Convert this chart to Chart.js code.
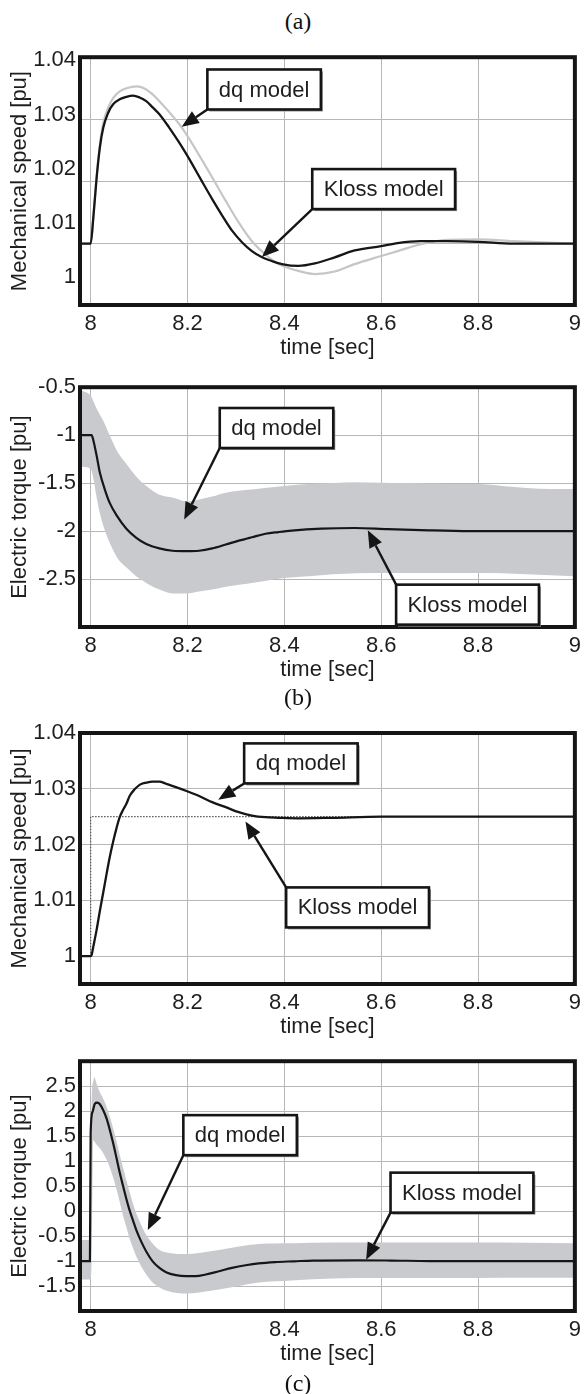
<!DOCTYPE html>
<html><head><meta charset="utf-8">
<script src="https://cdn.jsdelivr.net/npm/chart.js@4/dist/chart.umd.min.js"></script>
<style>
html,body{margin:0;padding:0;background:#fff;}
#page{position:relative;width:587px;height:1394px;overflow:hidden;background:#fff;}
#page canvas{position:absolute;left:0;}
.cap{position:absolute;left:298px;transform:translate(-50%,-50%);font-family:"Liberation Serif","Times New Roman",serif;font-size:24px;color:#111;line-height:1;white-space:nowrap;}
</style></head><body>
<div id="page">
  <div class="cap" style="top:21px">(a)</div>
  <canvas id="c1" width="587" height="325" style="top:40px"></canvas>
  <canvas id="c2" width="587" height="317" style="top:370px"></canvas>
  <div class="cap" style="top:697px">(b)</div>
  <canvas id="c3" width="587" height="332" style="top:712px"></canvas>
  <canvas id="c4" width="587" height="327" style="top:1044px"></canvas>
  <div class="cap" style="top:1383px">(c)</div>
</div>
<script>
// ---------- shared axis ticks ----------
const timeTicks = [8, 8.2, 8.4, 8.6, 8.8, 9];
const speedTicks = [1, 1.01, 1.02, 1.03, 1.04];
const torqueTicksA = [-3, -2.5, -2, -1.5, -1, -0.5];
const torqueTicksB = [-2, -1.5, -1, -0.5, 0, 0.5, 1, 1.5, 2, 2.5, 3];

// ---------- (a) mechanical speed ----------
const a1KlossT = [7.975, 8.0, 8.0055, 8.0123, 8.019, 8.026, 8.036, 8.0464, 8.060, 8.0738, 8.0874, 8.101, 8.1148, 8.128, 8.142, 8.1625, 8.183, 8.198, 8.210, 8.231, 8.251, 8.272, 8.292, 8.313, 8.333, 8.354, 8.374, 8.395, 8.429, 8.463, 8.504, 8.545, 8.6, 8.634, 8.682, 8.736, 8.8, 8.873, 9.0];
const a1KlossW = [1.0099, 1.0099, 1.0141, 1.0205, 1.0254, 1.0286, 1.0310, 1.0324, 1.0332, 1.0336, 1.0338, 1.0335, 1.0329, 1.0319, 1.0308, 1.0286, 1.0262, 1.0243, 1.0227, 1.0198, 1.0171, 1.0144, 1.0120, 1.0101, 1.0087, 1.0077, 1.0071, 1.0066, 1.0063, 1.0067, 1.0077, 1.0088, 1.0095, 1.0100, 1.0103, 1.0103, 1.0102, 1.0099, 1.0099];
const a1DqT = [7.975, 8.0, 8.0055, 8.0123, 8.019, 8.026, 8.036, 8.0464, 8.060, 8.0738, 8.0956, 8.1148, 8.128, 8.142, 8.183, 8.198, 8.224, 8.251, 8.279, 8.306, 8.333, 8.36, 8.388, 8.415, 8.429, 8.463, 8.504, 8.545, 8.6, 8.634, 8.682, 8.736, 8.8, 8.873, 9.0];
const a1DqW = [1.0099, 1.0099, 1.0141, 1.0208, 1.0259, 1.0294, 1.0318, 1.0334, 1.0345, 1.0350, 1.0353, 1.0348, 1.0340, 1.0329, 1.0292, 1.0275, 1.0242, 1.0206, 1.0168, 1.0133, 1.0103, 1.0082, 1.0066, 1.0058, 1.0055, 1.0050, 1.0054, 1.0066, 1.0079, 1.0087, 1.0098, 1.0105, 1.0106, 1.0103, 1.0099];

// ---------- (a) electric torque ----------
const a2KlossT = [7.975, 8.002, 8.0055, 8.0123, 8.019, 8.0293, 8.0396, 8.0533, 8.0738, 8.0943, 8.1148, 8.142, 8.169, 8.198, 8.224, 8.251, 8.279, 8.306, 8.333, 8.361, 8.388, 8.415, 8.477, 8.545, 8.613, 8.682, 8.784, 9.0];
const a2KlossTe = [-1, -1, -1.053, -1.213, -1.39, -1.567, -1.709, -1.833, -1.975, -2.07, -2.134, -2.18, -2.205, -2.21, -2.205, -2.18, -2.14, -2.10, -2.064, -2.028, -2.01, -1.995, -1.975, -1.968, -1.98, -1.99, -2.0, -2.0];
const a2DqT = [7.978, 8.0, 8.006, 8.012, 8.019, 8.029, 8.04, 8.055, 8.074, 8.094, 8.115, 8.142, 8.169, 8.198, 8.224, 8.251, 8.279, 8.306, 8.333, 8.36, 8.4, 8.45, 8.5, 8.55, 8.6, 8.65, 8.7, 8.75, 8.8, 8.85, 8.9, 8.95, 9.0];
const a2DqMax = [-0.53, -0.59, -0.65, -0.72, -0.785, -0.88, -1.01, -1.17, -1.30, -1.43, -1.53, -1.62, -1.65, -1.69, -1.67, -1.64, -1.60, -1.58, -1.567, -1.55, -1.53, -1.51, -1.50, -1.49, -1.496, -1.50, -1.505, -1.51, -1.51, -1.53, -1.55, -1.56, -1.56];
const a2DqMin = [-1.33, -1.35, -1.46, -1.64, -1.815, -1.99, -2.13, -2.28, -2.38, -2.47, -2.54, -2.61, -2.65, -2.65, -2.63, -2.61, -2.58, -2.56, -2.54, -2.52, -2.49, -2.47, -2.45, -2.44, -2.436, -2.436, -2.436, -2.436, -2.436, -2.44, -2.45, -2.46, -2.47];

// ---------- (b) mechanical speed ----------
const b1DqT = [7.975, 8.0, 8.002, 8.0055, 8.0123, 8.019, 8.026, 8.0328, 8.0396, 8.0464, 8.0533, 8.060, 8.0668, 8.0738, 8.0805, 8.0908, 8.101, 8.1148, 8.128, 8.142, 8.1557, 8.176, 8.198, 8.224, 8.251, 8.279, 8.306, 8.333, 8.361, 8.388, 8.429, 8.5, 8.6, 9.0];
const b1DqW = [1.0, 1.0, 1.0002, 1.0017, 1.0047, 1.0081, 1.0114, 1.0147, 1.0178, 1.0205, 1.0229, 1.0249, 1.0262, 1.0273, 1.0287, 1.0299, 1.0307, 1.0311, 1.0313, 1.0313, 1.0309, 1.0303, 1.0296, 1.0287, 1.0276, 1.0267, 1.0258, 1.0252, 1.0249, 1.0248, 1.0247, 1.0248, 1.025, 1.025];
const b1KlossT = [7.975, 8.0, 8.0, 9.0];
const b1KlossW = [1.0, 1.0, 1.025, 1.025];

// ---------- (b) electric torque ----------
const b2KlossT = [7.975, 7.9985, 8.0, 8.004, 8.0088, 8.0136, 8.019, 8.026, 8.0328, 8.0396, 8.0464, 8.0533, 8.06, 8.0668, 8.0738, 8.0805, 8.0874, 8.0943, 8.1045, 8.1148, 8.128, 8.142, 8.1557, 8.176, 8.1967, 8.217, 8.2377, 8.265, 8.292, 8.32, 8.347, 8.381, 8.42, 8.46, 8.55, 8.62, 8.7, 9.0];
const b2KlossTe = [-1, -1, 1.559, 1.987, 2.151, 2.171, 2.138, 2.019, 1.855, 1.624, 1.362, 1.066, 0.770, 0.507, 0.243, 0.013, -0.184, -0.381, -0.612, -0.809, -1.007, -1.138, -1.224, -1.283, -1.303, -1.303, -1.27, -1.204, -1.138, -1.085, -1.046, -1.02, -1.005, -0.99, -0.985, -0.99, -1.0, -1.0];
const b2DqT = [7.975, 7.999, 8.002, 8.0055, 8.0075, 8.0123, 8.019, 8.026, 8.0328, 8.0396, 8.0464, 8.0533, 8.06, 8.0668, 8.0738, 8.0805, 8.0874, 8.0943, 8.1045, 8.1148, 8.128, 8.142, 8.1625, 8.1967, 8.224, 8.265, 8.306, 8.347, 8.415, 8.5, 8.6, 8.7, 8.8, 8.9, 9.0];
const b2DqMax = [-0.58, -0.58, 2.2, 2.6, 2.68, 2.55, 2.38, 2.25, 2.09, 1.89, 1.66, 1.40, 1.13, 0.87, 0.61, 0.38, 0.15, -0.05, -0.28, -0.48, -0.65, -0.78, -0.84, -0.86, -0.84, -0.78, -0.71, -0.66, -0.645, -0.63, -0.63, -0.63, -0.63, -0.635, -0.645];
const b2DqMin = [-1.37, -1.37, -1.0, 1.43, 1.40, 1.33, 1.26, 1.16, 1.03, 0.87, 0.67, 0.44, 0.18, -0.09, -0.32, -0.55, -0.74, -0.91, -1.11, -1.27, -1.43, -1.53, -1.61, -1.65, -1.63, -1.57, -1.50, -1.43, -1.39, -1.35, -1.34, -1.34, -1.34, -1.336, -1.336];

// ---------- callouts: box centre and arrow tip in data units ----------
const calloutsA1 = [
  {text: 'dq model', box: [8.3582, 1.03479], tip: [8.1881, 1.02879], from: 'bl'},
  {text: 'Kloss model', box: [8.6051, 1.01871], tip: [8.3537, 1.00774], from: 'bl'}
];
const calloutsA2 = [
  {text: 'dq model', box: [8.3838, -0.9255], tip: [8.1932, -1.8787], from: 'bl'},
  {text: 'Kloss model', box: [8.7783, -2.767], tip: [8.5723, -1.9926], from: 'tl'}
];
const calloutsB1 = [
  {text: 'dq model', box: [8.4342, 1.03455], tip: [8.2635, 1.02805], from: 'bl'},
  {text: 'Kloss model', box: [8.5512, 1.00873], tip: [8.3197, 1.02413], from: 'tl'}
];
const calloutsB2 = [
  {text: 'dq model', box: [8.3086, 1.5197], tip: [8.118, -0.381], from: 'bl'},
  {text: 'Kloss model', box: [8.7668, 0.369], tip: [8.5689, -0.973], from: 'bl'}
];

// ---------- styling / helpers ----------
const FAMILY = "'Liberation Sans', Arial, Helvetica, sans-serif";
const FONT = {family: FAMILY, size: 22};
const TXT = '#1e1e1e';
const GRID = '#b7b7b7';
const BAND = '#c9cace';
const X_MIN = 7.978, X_MAX = 9.0;

const pts = (xs, ys) => xs.map((x, i) => ({x: x, y: ys[i]}));
const fmt = v => String(parseFloat(Number(v).toFixed(3)));
const isIn = (list, v) => list.some(h => Math.abs(h - v) < 1e-9);

function xScale(hidden) {
  return {
    type: 'linear', position: 'bottom', min: X_MIN, max: X_MAX,
    afterBuildTicks: s => { s.ticks = timeTicks.map(v => ({value: v})); },
    afterFit: s => { s.height = 60; },
    grid: {color: GRID, lineWidth: 1, drawTicks: false},
    border: {display: false},
    ticks: {font: FONT, color: TXT, padding: 6, maxRotation: 0, autoSkip: false,
            callback: v => isIn(hidden, v) ? '' : fmt(v)},
    title: {display: true, text: 'time [sec]', font: FONT, color: TXT, padding: {top: 0, bottom: 4}}
  };
}
function yScale(min, max, ticks, hidden, title, opts) {
  opts = opts || {};
  return {
    type: 'linear', position: 'left', min: min, max: max,
    display: true,
    afterBuildTicks: s => { s.ticks = ticks.map(v => ({value: v})); },
    afterFit: s => { s.width = opts.width === undefined ? 80 : opts.width; },
    grid: {display: opts.grid !== false, color: GRID, lineWidth: 1, drawTicks: false},
    border: {display: false},
    ticks: {display: opts.labels !== false, font: FONT, color: TXT, padding: 4, autoSkip: false,
            callback: v => isIn(hidden, v) ? '' : fmt(v)},
    title: {display: !!title, text: title || '', font: FONT, color: TXT, padding: {top: 7, bottom: 0}}
  };
}

const framePlugin = {
  id: 'frame',
  afterDatasetsDraw(chart) {
    const {ctx, chartArea: a} = chart;
    ctx.save();
    ctx.strokeStyle = '#151515';
    ctx.lineWidth = 4;
    ctx.strokeRect(a.left, a.top, a.right - a.left, a.bottom - a.top);
    ctx.restore();
  }
};

function drawArrow(ctx, from, to) {
  const ang = Math.atan2(to[1] - from[1], to[0] - from[0]);
  const L = 17, W = 7;
  const bx = to[0] - L * Math.cos(ang), by = to[1] - L * Math.sin(ang);
  ctx.strokeStyle = '#151515';
  ctx.lineWidth = 2.4;
  ctx.beginPath(); ctx.moveTo(from[0], from[1]); ctx.lineTo(bx, by); ctx.stroke();
  ctx.fillStyle = '#151515';
  ctx.beginPath();
  ctx.moveTo(to[0], to[1]);
  ctx.lineTo(bx + W * Math.sin(ang), by - W * Math.cos(ang));
  ctx.lineTo(bx - W * Math.sin(ang), by + W * Math.cos(ang));
  ctx.closePath(); ctx.fill();
}

function calloutPlugin(items, yId) {
  return {
    id: 'callouts',
    afterDraw(chart) {
      const ctx = chart.ctx, xs = chart.scales.x, ys = chart.scales[yId];
      ctx.save();
      ctx.font = '22px ' + FAMILY;
      for (const it of items) {
        const cx = xs.getPixelForValue(it.box[0]), cy = ys.getPixelForValue(it.box[1]);
        const w = ctx.measureText(it.text).width + 23, h = 40;
        const left = cx - w / 2, top = cy - h / 2;
        const tail = it.from === 'tl' ? [left, top] : [left, top + h];
        const tip = [xs.getPixelForValue(it.tip[0]), ys.getPixelForValue(it.tip[1])];
        drawArrow(ctx, tail, tip);
        ctx.fillStyle = '#8c8c8c';
        ctx.fillRect(left + 2, top + 2, w, h);
        ctx.fillStyle = '#ffffff';
        ctx.fillRect(left, top, w, h);
        ctx.lineWidth = 2.6;
        ctx.strokeStyle = '#151515';
        ctx.strokeRect(left, top, w, h);
        ctx.fillStyle = TXT;
        ctx.textAlign = 'center';
        ctx.textBaseline = 'middle';
        ctx.fillText(it.text, cx, cy + 1);
      }
      ctx.restore();
    }
  };
}

function lineDs(xs, ys, color, width, extra) {
  return Object.assign({
    data: pts(xs, ys), borderColor: color, backgroundColor: color, borderWidth: width,
    pointRadius: 0, fill: false, cubicInterpolationMode: 'monotone'
  }, extra || {});
}

function makeChart(id, datasets, scales, padTop, items, yId) {
  return new Chart(document.getElementById(id), {
    type: 'line',
    data: {datasets: datasets},
    options: {
      responsive: false, animation: false, events: [],
      layout: {padding: {top: padTop, right: 8, bottom: 0, left: 0}},
      plugins: {legend: {display: false}, tooltip: {enabled: false}},
      scales: scales
    },
    plugins: [framePlugin, calloutPlugin(items, yId)]
  });
}

// (a) speed: grid axis carries the data, a second axis carries the printed labels
makeChart('c1', [
  lineDs(a1KlossT, a1KlossW, '#161616', 2.3, {yAxisID: 'y'}),
  lineDs(a1DqT, a1DqW, '#c6c6c6', 2.2, {yAxisID: 'y'})
], {
  x: xScale([]),
  yl: yScale(0.99489, 1.04055, speedTicks, [], 'Mechanical speed [pu]', {grid: false}),
  y: yScale(1.0, 1.04, speedTicks, [], null, {labels: false, width: 0})
}, 16, calloutsA1, 'y');

// (a) torque
makeChart('c2', [
  lineDs(a2KlossT, a2KlossTe, '#161616', 2.2),
  lineDs(a2DqT, a2DqMax, BAND, 0, {fill: '+1', backgroundColor: BAND}),
  lineDs(a2DqT, a2DqMin, BAND, 0)
], {
  x: xScale([]),
  y: yScale(-3, -0.5, torqueTicksA, [-3], 'Electric torque [pu]')
}, 17, calloutsA2, 'y');

// (b) speed
makeChart('c3', [
  lineDs(b1DqT, b1DqW, '#161616', 2.3),
  lineDs(b1KlossT, b1KlossW, '#555555', 1.2, {cubicInterpolationMode: 'default', tension: 0, borderDash: [1.5, 1.5]})
], {
  x: xScale([]),
  y: yScale(0.995, 1.04, speedTicks, [], 'Mechanical speed [pu]')
}, 21, calloutsB1, 'y');

// (b) torque
makeChart('c4', [
  lineDs(b2KlossT, b2KlossTe, '#161616', 2.2),
  lineDs(b2DqT, b2DqMax, BAND, 0, {fill: '+1', backgroundColor: BAND}),
  lineDs(b2DqT, b2DqMin, BAND, 0)
], {
  x: xScale([8.2]),
  y: yScale(-2, 3, torqueTicksB, [-2, 3], 'Electric torque [pu]')
}, 11, calloutsB2, 'y');
</script>
</body></html>
